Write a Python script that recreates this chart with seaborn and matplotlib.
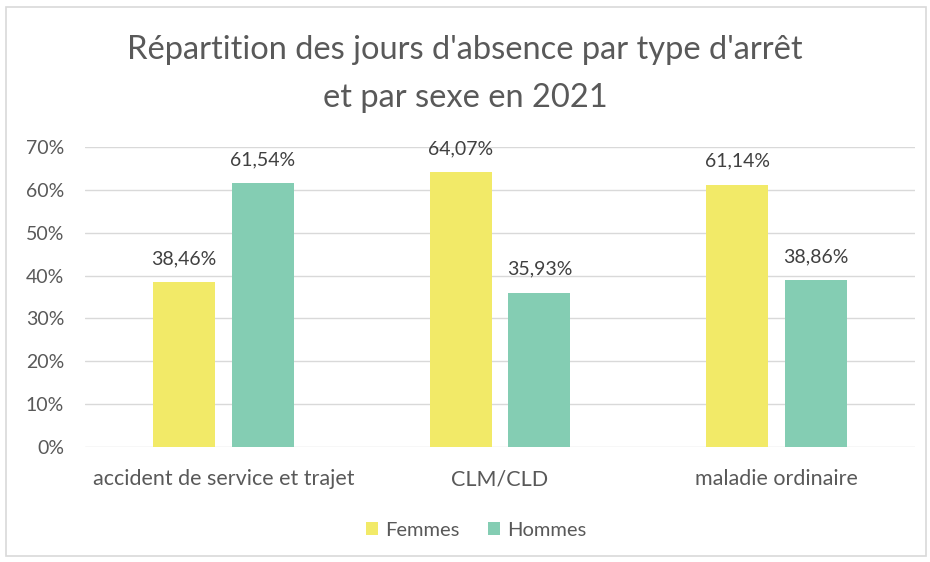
import matplotlib
matplotlib.use("Agg")
import matplotlib.pyplot as plt
import seaborn as sns
import pandas as pd
from matplotlib.ticker import FuncFormatter
from matplotlib.patches import Rectangle

categories = ["accident de service et trajet", "CLM/CLD", "maladie ordinaire"]
femmes = [38.46, 64.07, 61.14]
hommes = [61.54, 35.93, 38.86]
series = ["Femmes", "Hommes"]
colors = ["#f2ea68", "#84cdb3"]
yticks = [0, 10, 20, 30, 40, 50, 60, 70]
title_lines = ["Répartition des jours d'absence par type d'arrêt", "et par sexe en 2021"]

df = pd.DataFrame({
    "cat": categories * 2,
    "val": femmes + hommes,
    "sexe": [series[0]] * 3 + [series[1]] * 3,
})

sns.set_theme(style="white")
plt.rcParams["font.family"] = ["Lato", "DejaVu Sans"]

fig = plt.figure(figsize=(9.3, 5.62), dpi=100)
ax = fig.add_axes([0.0914, 0.2046, 0.8926, 0.5338])

sns.barplot(data=df, x="cat", y="val", hue="sexe", palette=colors,
            width=0.57, gap=0.214, ax=ax, order=categories, hue_order=series,
            saturation=1, edgecolor="none", errorbar=None)

ax.set_ylim(0, 70)
ax.set_xlim(-0.5, 2.5)
ax.set_yticks(yticks)
ax.yaxis.set_major_formatter(FuncFormatter(lambda v, p: f"{int(v)}%"))
ax.grid(axis="y", color="#d9d9d9", linewidth=1)
ax.set_axisbelow(True)
for s in ax.spines.values():
    s.set_visible(False)
ax.tick_params(axis="y", length=0, labelsize=14, colors="#595959", pad=15)
ax.tick_params(axis="x", length=0, labelsize=15.5, colors="#595959", pad=16)
ax.set_xlabel("")
ax.set_ylabel("")

for cont in ax.containers:
    ax.bar_label(cont, labels=[f"{v:.2f}".replace(".", ",") + "%" for v in cont.datavalues],
                 padding=11, fontsize=14, color="#404040")

leg = ax.legend(loc="center", bbox_to_anchor=(0.471, -0.277), ncol=2, frameon=False,
                fontsize=14.5, handlelength=0.6, handleheight=0.6, columnspacing=1.4,
                handletextpad=0.35)
for t in leg.get_texts():
    t.set_color("#595959")

fig.text(0.5, 1 - 50 / 562, title_lines[0], ha="center", va="center",
         fontsize=23.5, color="#595959")
fig.text(0.5, 1 - 98 / 562, title_lines[1], ha="center", va="center",
         fontsize=23.5, color="#595959")

fig.patches.append(Rectangle((0.006, 0.01), 0.99, 0.978, transform=fig.transFigure,
                             fill=False, edgecolor="#d9d9d9", linewidth=1.2))

fig.savefig("out.png", dpi=100)
